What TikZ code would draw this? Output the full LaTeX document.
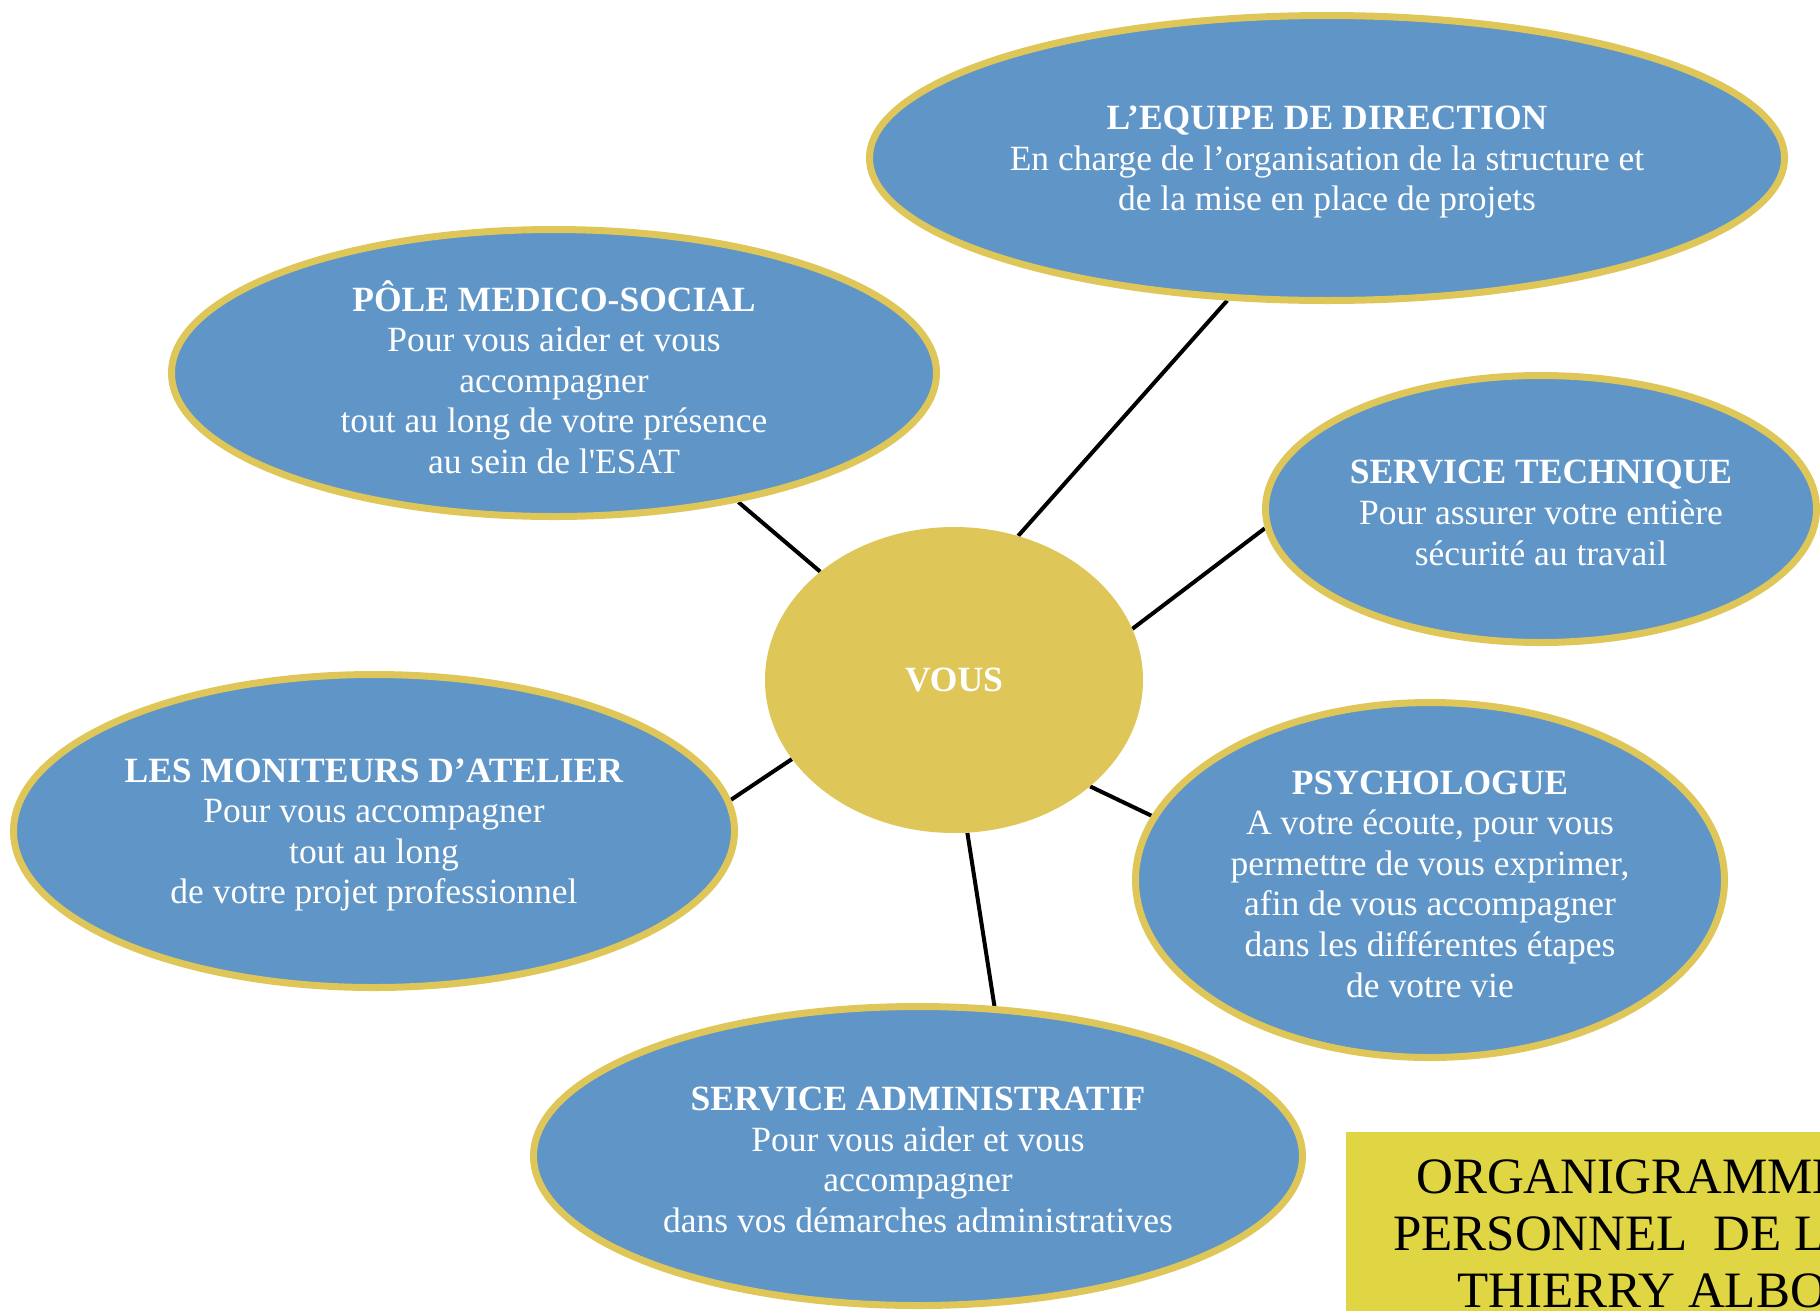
\documentclass[tikz,border=0pt]{standalone}
\usepackage{fontspec}
\setmainfont{Liberation Serif}
\usetikzlibrary{shapes.geometric,backgrounds}
\definecolor{blu}{RGB}{96,149,199}
\definecolor{gld}{RGB}{223,198,88}
\definecolor{ylw}{RGB}{224,213,66}
\newcommand{\straightq}{\XeTeXglyph\XeTeXcharglyph"27\relax}
\tikzset{
  bubble/.style={ellipse,draw=gld,line width=7pt,fill=blu,inner sep=0pt},
  btext/.style={text=white,align=center,font=\fontsize{35.5}{40.6}\selectfont,inner sep=0pt,yshift=-4pt},
  link/.style={line width=4pt,black},
  boxtext/.style={anchor=base west,inner sep=0pt,font=\fontsize{51}{57}\selectfont},
}
\begin{document}
\begin{tikzpicture}[x=1pt,y=-1pt]
\useasboundingbox (0,0) rectangle (1820,1310);
\clip (0,0) rectangle (1820,1310);
\node[bubble,minimum width=915pt,minimum height=285pt] (dir) at (1327,158) {};
\node[bubble,minimum width=765pt,minimum height=287pt] (pole) at (554,373) {};
\node[bubble,minimum width=551pt,minimum height=267pt] (tech) at (1541,509) {};
\node[ellipse,fill=gld,draw=none,inner sep=0pt,minimum width=378pt,minimum height=306pt] (vous) at (954,680) {};
\node[bubble,minimum width=721pt,minimum height=313pt] (mon) at (374,831) {};
\node[bubble,minimum width=589pt,minimum height=355pt] (psy) at (1430,880) {};
\node[bubble,minimum width=769pt,minimum height=299pt] (adm) at (918,1156) {};

\node[btext] (dirT) at (dir) {\textbf{L’EQUIPE DE DIRECTION}\\En charge de l’organisation de la structure et\\de la mise en place de projets};
\node[btext] (poleT) at (pole) {\textbf{PÔLE MEDICO-SOCIAL}\\Pour vous aider et vous\\accompagner\\tout au long de votre présence\\au sein de l\straightq ESAT};
\node[btext] (techT) at (tech) {\textbf{SERVICE TECHNIQUE}\\Pour assurer votre entière\\sécurité au travail};
\node[btext,yshift=4pt] (vousT) at (vous) {\textbf{VOUS}};
\node[btext] (monT) at (mon) {\textbf{LES MONITEURS D’ATELIER}\\Pour vous accompagner\\tout au long\\de votre projet professionnel};
\node[btext] (psyT) at (psy) {\textbf{PSYCHOLOGUE}\\A votre écoute, pour vous\\permettre de vous exprimer,\\afin de vous accompagner\\dans les différentes étapes\\de votre vie};
\node[btext] (admT) at (adm) {\textbf{SERVICE ADMINISTRATIF}\\Pour vous aider et vous\\accompagner\\dans vos démarches administratives};

\begin{scope}[on background layer]
\draw[link] (vous.66.4) -- (dir.235.8);
\draw[link] (vous.141.6) -- (pole.-35.5);
\draw[link] (vous.16.3) -- (tech.184.8);
\draw[link] (vous.206.1) -- (mon.5.1);
\draw[link] (vous.-38.5) -- (psy.167.6);
\draw[link] (vous.-85.1) -- (adm.63);
\end{scope}

\node[fill=ylw,inner sep=0pt,anchor=north west,minimum width=480pt,minimum height=180pt] (box) at (1346,1132) {};
\node[boxtext] (l1) at (1416,1193) {ORGANIGRAMME};
\node[boxtext] (l2) at (1393,1250) {PERSONNEL\ \ DE L};
\node[boxtext] (l3) at (1457,1307) {THIERRY ALBO};
\end{tikzpicture}
\end{document}
